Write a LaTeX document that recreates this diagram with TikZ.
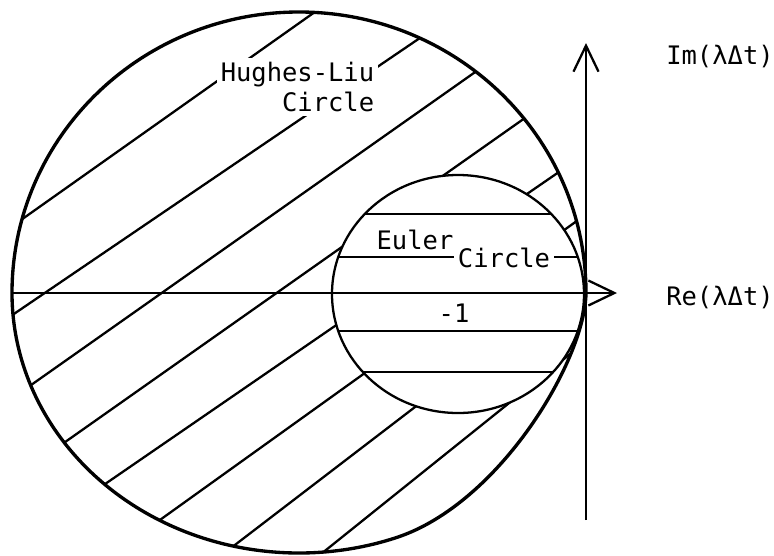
\documentclass[tikz,border=0pt]{standalone}
\usepackage{fontspec}
\setmonofont{DejaVu Sans Mono}
\usetikzlibrary{arrows.meta}
\tikzset{
  lbl/.style={font=\ttfamily\fontsize{14.5}{17.6}\selectfont,inner sep=2pt},
  hatch/.style={line width=1.3pt},
  axis/.style={line width=1.4pt,-{Straight Barb[length=0.52cm,width=0.5cm,line width=1.3pt]}},
}
\begin{document}
\begin{tikzpicture}[x=0.02cm,y=-0.02cm]
  \useasboundingbox (0,0) rectangle (774,555);
  \coordinate (O) at (586,293);
  \coordinate (xs) at (11,293);
  \coordinate (xe) at (617,293);
  \coordinate (ys) at (586,520);
  \coordinate (ye) at (586,43);
  \coordinate (ec) at (458,294);
  % Hughes-Liu outline (hand drawn, squeezed near the origin)
  \path[save path=\hlcirc] (O)
    arc[start angle=0,end angle=-180,x radius=287,y radius=281]
    arc[start angle=180,end angle=70,x radius=287,y radius=260]
    .. controls (500,503) and (585,360) .. (O) -- cycle;
  % diagonal hatching
  \begin{scope}
    \clip[use path=\hlcirc];
    \foreach \xa/\ya/\xb/\yb in {-20/249/620/-204, -20/337/620/-98,
        -20/421/620/-30, -20/502/620/51, -20/570/620/130, -20/649/620/190,
        150/610/620/250, 250/611/620/314}
      \draw[hatch] (\xa,\ya) -- (\xb,\yb);
  \end{scope}
  % Euler circle, horizontal hatching
  \fill[white] (ec) ellipse [x radius=126,y radius=119];
  \begin{scope}
    \clip (ec) ellipse [x radius=126,y radius=119];
    \foreach \y in {214,257,331,372}
      \draw[hatch] (330,\y) -- (590,\y);
  \end{scope}
  \draw[line width=1.3pt] (ec) ellipse [x radius=126,y radius=119];
  \draw[line width=1.9pt,use path=\hlcirc];
  % axes
  \draw[axis] (xs) -- (xe);
  \draw[axis] (ys) -- (ye);
  % labels
  \node[lbl,fill=white,align=right,anchor=east] (hl) at (378,87) {Hughes-Liu\\Circle};
  \node[lbl] (eu) at (415,240) {Euler};
  \node[lbl,fill=white] (ci) at (504,258) {Circle};
  \node[lbl] (m1) at (454,313) {-1};
  \node[lbl] (im) at (720,56) {Im(λΔt)};
  \node[lbl] (re) at (720,297) {Re(λΔt)};
\end{tikzpicture}
\end{document}
